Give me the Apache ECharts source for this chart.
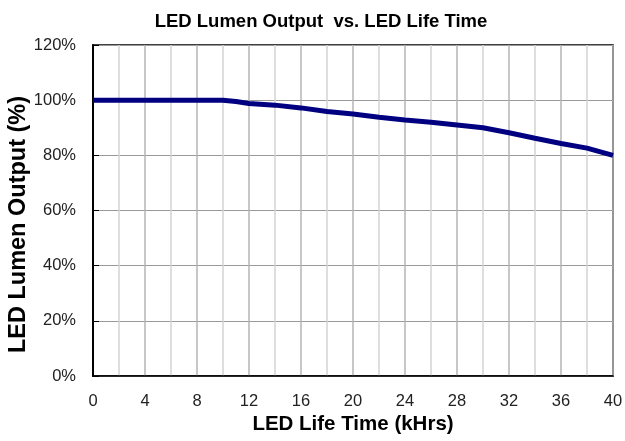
<!DOCTYPE html>
<html><head><meta charset="utf-8">
<script src="https://cdn.jsdelivr.net/npm/echarts@6/dist/echarts.min.js"></script>
<style>html,body{margin:0;padding:0;background:#fff}#c{width:625px;height:441px}</style>
</head><body><div id="c"></div>
<script>
const lifeTime = [0, 2, 4, 6, 8, 10, 11, 12, 14, 16, 18, 20, 22, 24, 26, 28, 30, 32, 34, 36, 38, 40];
const lumenOutput = [100, 100, 100, 100, 100, 100, 99.5, 98.8, 98.2, 97.2, 95.9, 95.0, 93.8, 92.8, 92.0, 91.0, 90.0, 88.2, 86.2, 84.3, 82.6, 80.0];
const titleText = 'LED Lumen Output  vs. LED Life Time';
const xName = 'LED Life Time (kHrs)';
const yName = 'LED Lumen Output (%)';

const font = 'Liberation Sans, Arial, sans-serif';
const chart = echarts.init(document.getElementById('c'), null, {renderer: 'canvas'});
chart.setOption({
  animation: false,
  backgroundColor: '#fff',
  title: {
    text: titleText, left: 316, top: 7, textAlign: 'center',
    textStyle: {fontFamily: font, fontWeight: 'bold', fontSize: 18.5, color: '#000'}
  },
  grid: {left: 93, right: 12, top: 45, bottom: 65, containLabel: false, outerBoundsMode: 'none', show: true, borderColor: '#000', borderWidth: 1.5, backgroundColor: 'transparent'},
  xAxis: {
    type: 'value', min: 0, max: 40, interval: 4,
    name: xName, nameLocation: 'middle', nameGap: 38, nameMoveOverlap: false,
    nameTextStyle: {fontFamily: font, fontWeight: 'bold', fontSize: 20.5, color: '#000'},
    axisLine: {show: true, lineStyle: {color: '#000', width: 1.5}},
    axisTick: {show: false},
    minorTick: {show: false, splitNumber: 2},
    minorSplitLine: {show: true, lineStyle: {color: '#d4d4d4', width: 1.5}},
    splitLine: {show: true, lineStyle: {color: '#b4b4b4', width: 1.5}},
    axisLabel: {fontFamily: font, fontSize: 16.5, color: '#222', margin: 17}
  },
  yAxis: {
    type: 'value', min: 0, max: 120, interval: 20,
    name: yName, nameLocation: 'middle', nameGap: 62, nameRotate: 90, nameMoveOverlap: false,
    nameTextStyle: {fontFamily: font, fontWeight: 'bold', fontSize: 23.5, color: '#000', padding: [0, 0, 0, -28]},
    axisLine: {show: true, lineStyle: {color: '#000', width: 2}},
    axisTick: {show: true, inside: true, length: 6, lineStyle: {color: '#000'}},
    splitLine: {show: true, lineStyle: {color: '#999', width: 1}},
    axisLabel: {fontFamily: font, fontSize: 16.5, color: '#222', margin: 17, formatter: '{value}%'}
  },
  series: [{
    type: 'line',
    data: lifeTime.map((x, i) => [x, lumenOutput[i]]),
    showSymbol: false, smooth: false,
    lineStyle: {color: '#000080', width: 5}
  }]
});
</script></body></html>
